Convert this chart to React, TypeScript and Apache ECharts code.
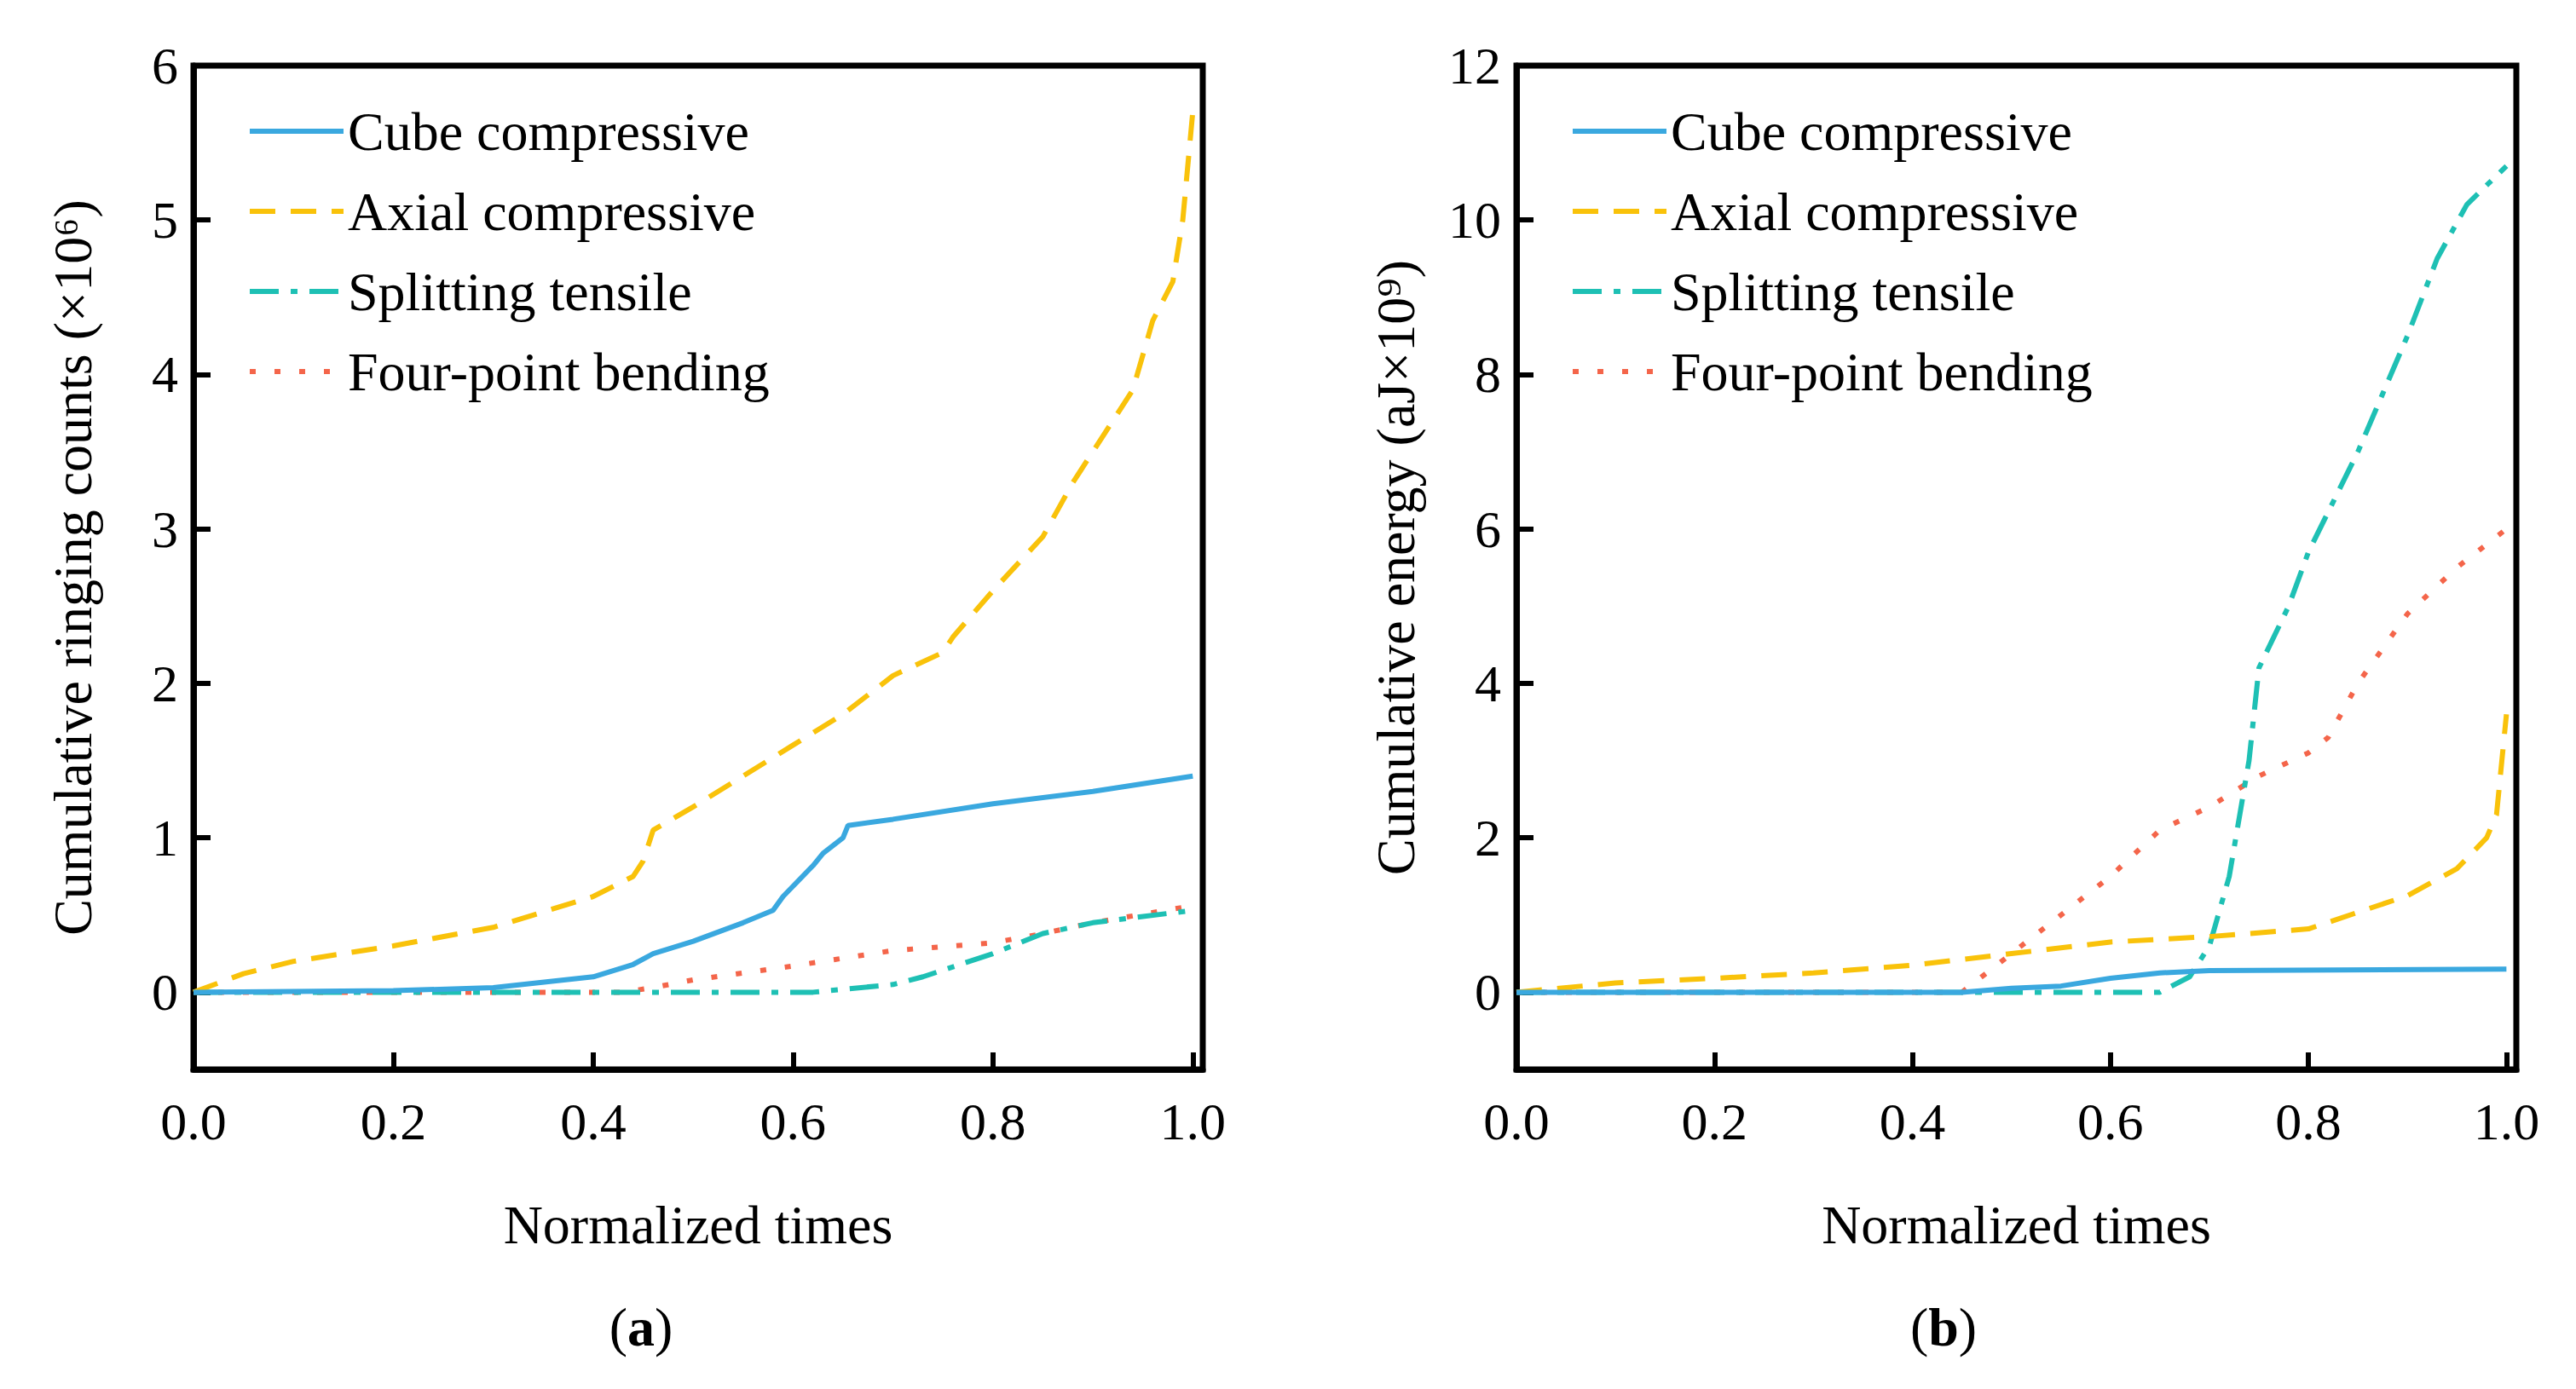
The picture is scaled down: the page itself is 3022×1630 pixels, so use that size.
import React, { useEffect, useRef } from "react";
import * as echarts from "echarts";

const NAMES = ["Cube compressive", "Axial compressive", "Splitting tensile", "Four-point bending"];
const COLORS = ["#3aa8df", "#f9c20a", "#1ec0b4", "#f4654a"];
const DASH: any[] = ["solid", [30, 18], [34, 14, 8, 14], [7, 22]];

// (a) Cumulative ringing counts
const aCubeX = [0, 0.2, 0.3, 0.4, 0.44, 0.46, 0.5, 0.55, 0.58, 0.59, 0.62, 0.63, 0.65, 0.655, 0.7, 0.8, 0.9, 1.0];
const aCubeY = [0, 0.01, 0.03, 0.1, 0.18, 0.25, 0.33, 0.45, 0.53, 0.62, 0.82, 0.9, 1.0, 1.08, 1.12, 1.22, 1.3, 1.4];
const aAxialX = [0, 0.05, 0.1, 0.2, 0.3, 0.4, 0.44, 0.45, 0.46, 0.5, 0.55, 0.6, 0.65, 0.7, 0.75, 0.76, 0.8, 0.85, 0.88, 0.92, 0.94, 0.96, 0.98, 0.99, 1.0];
const aAxialY = [0, 0.12, 0.2, 0.3, 0.42, 0.62, 0.75, 0.85, 1.05, 1.2, 1.4, 1.6, 1.8, 2.05, 2.2, 2.3, 2.6, 2.95, 3.3, 3.7, 3.9, 4.35, 4.6, 5.0, 5.7];
const aSplitX = [0, 0.62, 0.7, 0.73, 0.8, 0.85, 0.9, 1.0];
const aSplitY = [0, 0, 0.05, 0.1, 0.25, 0.38, 0.45, 0.53];
const aFourX = [0, 0.43, 0.46, 0.5, 0.6, 0.7, 0.8, 0.85, 0.9, 1.0];
const aFourY = [0, 0, 0.03, 0.08, 0.17, 0.27, 0.32, 0.38, 0.45, 0.56];

// (b) Cumulative energy
const bCubeX = [0, 0.45, 0.5, 0.55, 0.6, 0.65, 0.7, 1.0];
const bCubeY = [0, 0, 0.05, 0.08, 0.18, 0.25, 0.28, 0.3];
const bAxialX = [0, 0.1, 0.2, 0.3, 0.4, 0.5, 0.6, 0.7, 0.8, 0.9, 0.95, 0.98, 0.99, 1.0];
const bAxialY = [0, 0.12, 0.18, 0.25, 0.35, 0.5, 0.65, 0.72, 0.82, 1.25, 1.6, 2.0, 2.3, 3.6];
const bSplitX = [0, 0.65, 0.68, 0.7, 0.72, 0.74, 0.75, 0.78, 0.8, 0.85, 0.9, 0.93, 0.96, 1.0];
const bSplitY = [0, 0, 0.2, 0.6, 1.5, 3.0, 4.2, 5.0, 5.7, 7.0, 8.5, 9.5, 10.2, 10.7];
const bFourX = [0, 0.45, 0.5, 0.55, 0.6, 0.65, 0.7, 0.75, 0.8, 0.82, 0.85, 0.9, 0.95, 1.0];
const bFourY = [0, 0, 0.5, 1.0, 1.5, 2.1, 2.4, 2.8, 3.1, 3.3, 4.0, 4.9, 5.5, 6.0];

const xTicks = [0, 0.2, 0.4, 0.6, 0.8, 1.0];
const aYTicks = [0, 1, 2, 3, 4, 5, 6];
const bYTicks = [0, 2, 4, 6, 8, 10, 12];

const zip = (xs: number[], ys: number[]) => xs.map((x, i) => [x, ys[i]]);
const FONT = "'Liberation Serif', 'Times New Roman', serif";

export default function App() {
  const ref = useRef<HTMLDivElement>(null);
  useEffect(() => {
    document.body.style.margin = "0";
    const chart = echarts.init(ref.current!, null, { renderer: "svg" });
    const lineAxis = { show: true, onZero: false, lineStyle: { color: "#000", width: 7 } };
    const xAxis = (gi: number) => ({
      type: "value", gridIndex: gi, min: 0, max: 1.01,
      name: "Normalized times", nameLocation: "middle", nameGap: 150,
      nameTextStyle: { fontFamily: FONT, fontSize: 64, color: "#000" },
      axisLine: lineAxis, splitLine: { show: false },
      axisTick: { show: true, inside: true, customValues: xTicks, length: 20, lineStyle: { width: 6, color: "#000" } },
      axisLabel: { customValues: xTicks, formatter: (v: number) => v.toFixed(1), fontFamily: FONT, fontSize: 62, color: "#000", margin: 30 },
    });
    const yAxis = (gi: number, min: number, max: number, ticks: number[], name: string) => ({
      type: "value", gridIndex: gi, min, max,
      name, nameLocation: "middle", nameGap: 110,
      nameTextStyle: { fontFamily: FONT, fontSize: 64, color: "#000" },
      axisLine: lineAxis, splitLine: { show: false },
      axisTick: { show: true, inside: true, customValues: ticks, length: 20, lineStyle: { width: 6, color: "#000" } },
      axisLabel: { customValues: ticks, fontFamily: FONT, fontSize: 62, color: "#000", margin: 18 },
    });
    const mk = (gi: number, data: number[][][]) => data.map((d, i) => ({
      name: NAMES[i], type: "line", xAxisIndex: gi, yAxisIndex: gi, data: d,
      showSymbol: false, symbol: "none", z: 10 - i,
      lineStyle: { color: COLORS[i], width: 6, type: DASH[i] }, itemStyle: { color: COLORS[i] },
    }));
    const legend = (left: number) => ({
      data: NAMES, left, top: 112, orient: "vertical", itemWidth: 110, itemHeight: 20, itemGap: 20,
      itemStyle: { opacity: 0 }, lineStyle: { width: 6 },
      textStyle: { fontFamily: FONT, fontSize: 64, lineHeight: 74, color: "#000" },
    });
    chart.setOption({
      animation: false,
      backgroundColor: "#fff",
      grid: [
        { left: 227, width: 1184, top: 77, height: 1178, show: true, borderColor: "#000", borderWidth: 7 },
        { left: 1779, width: 1173, top: 77, height: 1178, show: true, borderColor: "#000", borderWidth: 7 },
      ],
      xAxis: [xAxis(0), xAxis(1)],
      yAxis: [
        yAxis(0, -0.5, 6, aYTicks, "Cumulative ringing counts (×10⁶)"),
        yAxis(1, -1, 12, bYTicks, "Cumulative energy (aJ×10⁹)"),
      ],
      legend: [legend(285), legend(1837)],
      series: [
        ...mk(0, [zip(aCubeX, aCubeY), zip(aAxialX, aAxialY), zip(aSplitX, aSplitY), zip(aFourX, aFourY)]),
        ...mk(1, [zip(bCubeX, bCubeY), zip(bAxialX, bAxialY), zip(bSplitX, bSplitY), zip(bFourX, bFourY)]),
      ],
      graphic: [
        { type: "text", x: 752, y: 1557, style: { text: "({b|a})", rich: { b: { fontWeight: "bold", fontFamily: FONT, fontSize: 64 } }, font: `64px ${FONT}`, fill: "#000", align: "center", verticalAlign: "middle" } },
        { type: "text", x: 2280, y: 1557, style: { text: "({b|b})", rich: { b: { fontWeight: "bold", fontFamily: FONT, fontSize: 64 } }, font: `64px ${FONT}`, fill: "#000", align: "center", verticalAlign: "middle" } },
      ],
    });
    return () => chart.dispose();
  }, []);
  return <div ref={ref} style={{ width: 3022, height: 1630 }} />;
}
